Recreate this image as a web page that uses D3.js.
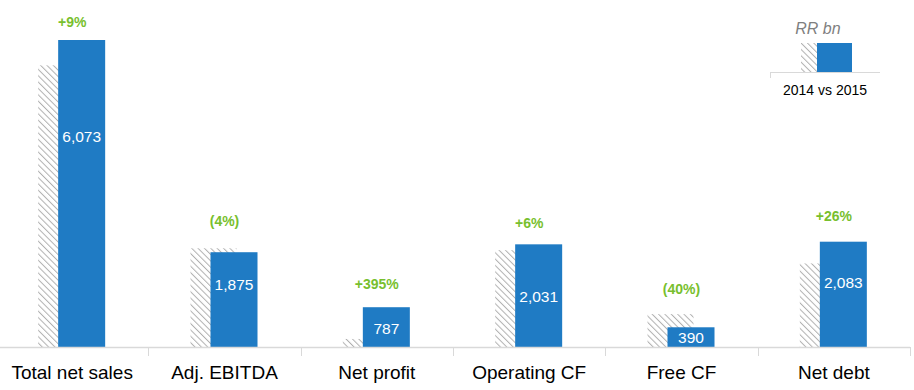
<!DOCTYPE html>
<html><head><meta charset="utf-8">
<script src="https://cdn.jsdelivr.net/npm/d3@7"></script>
<style>html,body{margin:0;padding:0;background:#fff;}svg{display:block;font-family:"Liberation Sans",Arial,sans-serif;}</style>
</head><body>
<div id="chart"></div>
<script>
const categories = ["Total net sales","Adj. EBITDA","Net profit","Operating CF","Free CF","Net debt"];
const values2014 = [5572, 1953, 159, 1916, 650, 1653];
const values2015 = [6073, 1875, 787, 2031, 390, 2083];
const changeLabels = ["+9%","(4%)","+395%","+6%","(40%)","+26%"];
const legendTitle = "RR bn";
const legendLabel = "2014 vs  2015";

const W = 914, H = 390;
const svg = d3.select("#chart").append("svg").attr("width", W).attr("height", H);

const defs = svg.append("defs");
const pat = defs.append("pattern").attr("id","hatch").attr("patternUnits","userSpaceOnUse")
  .attr("width",4.5).attr("height",4.5).attr("patternTransform","rotate(-45)");
pat.append("rect").attr("width",4.5).attr("height",4.5).attr("fill","#fff");
pat.append("line").attr("x1",0).attr("y1",0).attr("x2",0).attr("y2",4.5)
  .attr("stroke","#b0b0b0").attr("stroke-width",2);

const baseY = 347;
const x = d3.scaleBand().domain(categories).range([-4, 910]).padding(0);
const y = d3.scaleLinear().domain([0, 6073]).range([baseY, 40]);

const blue = "#1f7bc4", green = "#78bf2e";
const barW = 47;

const g = svg.append("g");
g.selectAll("rect.h").data(categories).join("rect").attr("class","h")
  .attr("x", d => x(d) + x.bandwidth()/2 - 34)
  .attr("y", (d,i) => y(values2014[i]))
  .attr("width", barW - 1)
  .attr("height", (d,i) => baseY - y(values2014[i]))
  .attr("fill","url(#hatch)");
g.selectAll("rect.b").data(categories).join("rect").attr("class","b")
  .attr("x", d => x(d) + x.bandwidth()/2 - 14)
  .attr("y", (d,i) => y(values2015[i]))
  .attr("width", barW)
  .attr("height", (d,i) => baseY - y(values2015[i]))
  .attr("fill", blue);

const labelAnchor = [4170, 1230, 360, 990, 180, 1270];
g.selectAll("text.v").data(categories).join("text").attr("class","v")
  .attr("x", d => x(d) + x.bandwidth()/2 - 14 + barW/2)
  .attr("y", (d,i) => y(labelAnchor[i]))
  .attr("dy","0.35em").attr("text-anchor","middle")
  .attr("fill","#fff").style("font-size","15.5px")
  .text((d,i) => d3.format(",")(values2015[i]));

const changeGap = [18, 27, 23, 21, 25, 26];
g.selectAll("text.c").data(categories).join("text").attr("class","c")
  .attr("x", d => x(d) + x.bandwidth()/2)
  .attr("y", (d,i) => y(Math.max(values2014[i], values2015[i])) - changeGap[i])
  .attr("dy","0.35em").attr("text-anchor","middle")
  .attr("fill", green).style("font-size","14px").style("font-weight","bold")
  .text((d,i) => changeLabels[i]);

const axis = svg.append("g");
axis.append("line").attr("x1",0).attr("x2",910).attr("y1",baseY+0.5).attr("y2",baseY+0.5)
  .attr("stroke","#d9d9d9").attr("stroke-width",1.5);
const bounds = categories.slice(1).map(d => x(d)).concat([x.range()[1]]);
axis.selectAll("line.t").data(bounds).join("line").attr("class","t")
  .attr("x1", d => Math.round(d)+0.5).attr("x2", d => Math.round(d)+0.5)
  .attr("y1", baseY).attr("y2", baseY+9)
  .attr("stroke","#d9d9d9").attr("stroke-width",1);
axis.selectAll("text").data(categories).join("text")
  .attr("x", d => x(d) + x.bandwidth()/2)
  .attr("y", 372).attr("dy","0.35em").attr("text-anchor","middle")
  .attr("fill","#000").style("font-size","19px")
  .text(d => d);

const lg = svg.append("g");
lg.append("text").attr("x", 818).attr("y", 28).attr("dy","0.35em").attr("text-anchor","middle")
  .attr("fill","#7f7f7f").style("font-size","16px").style("font-style","italic").text(legendTitle);
lg.append("rect").attr("x",801).attr("y",43).attr("width",17).attr("height",29).attr("fill","url(#hatch)");
lg.append("rect").attr("x",817).attr("y",43).attr("width",35).attr("height",29).attr("fill",blue);
lg.append("line").attr("x1",770).attr("x2",880).attr("y1",72.5).attr("y2",72.5).attr("stroke","#d9d9d9").attr("stroke-width",1.2);
lg.append("line").attr("x1",770.5).attr("x2",770.5).attr("y1",72).attr("y2",78).attr("stroke","#d9d9d9").attr("stroke-width",1);
lg.append("text").attr("x", 825).attr("y", 90).attr("dy","0.35em").attr("text-anchor","middle")
  .attr("fill","#000").style("font-size","14px").text(legendLabel);
</script>
</body></html>
